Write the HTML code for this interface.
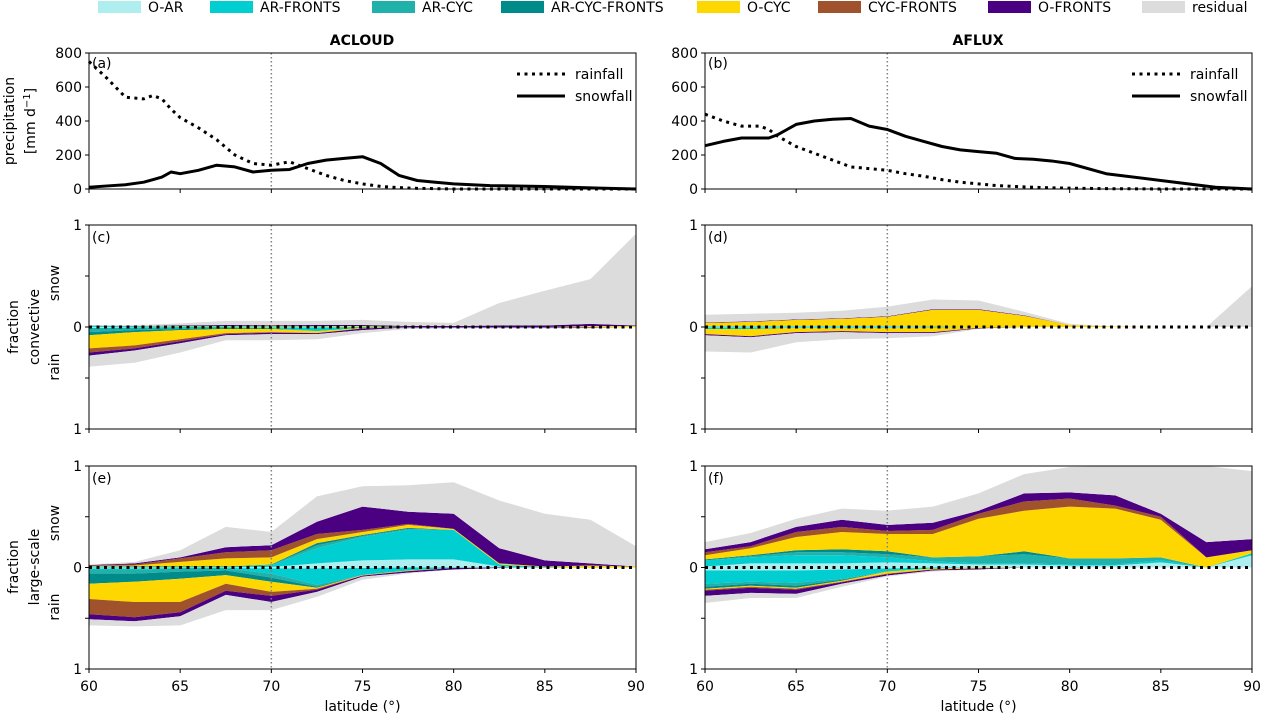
<!DOCTYPE html>
<html><head><meta charset="utf-8"><style>
body{margin:0;background:#fff}
svg{display:block;font-family:"DejaVu Sans","Liberation Sans",sans-serif}
</style></head><body>
<svg id="fig" width="1261" height="713" viewBox="0 0 1261 713"></svg>
<script>
// ---------- data ----------
const lats = [60,62.5,65,67.5,70,72.5,75,77.5,80,82.5,85,87.5,90];
const layerNames = ['O-AR','AR-FRONTS','AR-CYC','AR-CYC-FRONTS','O-CYC','CYC-FRONTS','O-FRONTS','residual'];
const layerColors = ['#afeeee','#00ced1','#20b2aa','#008b8b','#ffd700','#a0522d','#4b0082','#dcdcdc'];
const xTicks = [60,65,70,75,80,85,90];
const precipTicks = [0,200,400,600,800];

const latPrecip = [60,61,62,63,63.5,64,64.5,65,66,67,68,69,70,71,72,73,74,75,76,77,78,79,80,82,85,88,90];
const aRain = [750,650,540,530,550,530,470,420,360,290,200,150,140,160,120,80,50,30,15,8,4,2,0,0,0,0,0];
const aSnow = [10,18,25,40,55,70,100,90,110,140,130,100,110,115,150,170,180,190,150,80,50,40,30,20,15,5,0];
const bRain = [440,400,370,370,350,310,280,250,210,170,130,120,110,90,75,55,40,30,20,15,10,7,5,2,0,0,0];
const bSnow = [255,280,300,300,300,320,350,380,400,410,415,370,350,310,280,250,230,220,210,180,175,165,150,90,50,10,0];

// panel (c) convective, ACLOUD
const cSnowOAR =[0,0,0,0,0,0,0,0,0,0,0,0,0];
const cSnowARF =[0.01,0.005,0.005,0.005,0.005,0.005,0,0,0,0,0,0,0];
const cSnowARC =[0.005,0.005,0,0,0,0,0,0,0,0,0,0,0];
const cSnowACF =[0,0,0,0,0,0,0,0,0,0,0,0,0];
const cSnowOCYC=[0,0,0.005,0.005,0.01,0.005,0.01,0,0,0,0,0.01,0.01];
const cSnowCF  =[0,0,0,0,0,0,0,0,0,0,0,0,0];
const cSnowOF  =[0,0,0.005,0.01,0.005,0.01,0.01,0.01,0.01,0.015,0.015,0.02,0.005];
const cSnowRES =[0,0.01,0.02,0.04,0.04,0.04,0.05,0.04,0.03,0.22,0.34,0.44,0.9];
const cRainOAR =[0.01,0.005,0,0,0.005,0.005,0,0,0,0,0,0,0];
const cRainARF =[0,0,0.005,0.005,0.005,0.035,0.01,0,0,0,0,0,0];
const cRainARC =[0.04,0.025,0.015,0.005,0.005,0,0,0,0,0,0,0,0];
const cRainACF =[0.03,0.02,0.01,0.01,0.005,0,0,0,0,0,0,0,0];
const cRainOCYC=[0.13,0.13,0.09,0.04,0.03,0.02,0.005,0,0,0,0,0,0];
const cRainCF  =[0.04,0.03,0.02,0.01,0.005,0,0,0,0,0,0,0,0];
const cRainOF  =[0.03,0.02,0.02,0.01,0.015,0.01,0.015,0.005,0.005,0.005,0.005,0.005,0];
const cRainRES =[0.11,0.12,0.09,0.05,0.06,0.05,0.03,0.015,0.01,0.01,0.01,0.01,0];

// panel (d) convective, AFLUX
const dSnowOAR =[0.005,0.005,0.005,0.005,0.005,0,0,0,0,0,0,0,0];
const dSnowARF =[0.005,0.005,0.005,0.005,0.005,0.005,0,0,0,0,0,0,0];
const dSnowARC =[0,0,0,0,0,0,0,0,0,0,0,0,0];
const dSnowACF =[0,0,0,0,0,0,0,0,0,0,0,0,0];
const dSnowOCYC=[0.03,0.04,0.06,0.07,0.09,0.165,0.17,0.11,0.02,0.005,0,0,0];
const dSnowCF  =[0,0,0,0,0,0,0,0,0,0,0,0,0];
const dSnowOF  =[0.005,0.005,0.005,0.005,0.005,0.005,0.005,0.005,0,0,0,0,0];
const dSnowRES =[0.075,0.075,0.065,0.075,0.095,0.095,0.085,0.035,0.01,0,0,0,0.4];
const dRainOAR =[0.005,0.005,0.005,0.005,0.005,0,0,0,0,0,0,0,0];
const dRainARF =[0.015,0.015,0.005,0.005,0.005,0.005,0,0,0,0,0,0,0];
const dRainARC =[0,0,0,0,0,0,0,0,0,0,0,0,0];
const dRainACF =[0,0,0,0,0,0,0,0,0,0,0,0,0];
const dRainOCYC=[0.05,0.07,0.04,0.03,0.04,0.045,0.01,0,0,0,0,0,0];
const dRainCF  =[0,0,0,0,0,0,0,0,0,0,0,0,0];
const dRainOF  =[0.01,0.01,0.01,0.01,0.01,0.01,0.005,0,0,0,0,0,0];
const dRainRES =[0.16,0.15,0.09,0.07,0.05,0.03,0.005,0,0,0,0,0,0];

// panel (e) large-scale, ACLOUD
const eSnowOAR =[0,0,0,0,0.005,0.04,0.07,0.08,0.08,0.01,0,0,0];
const eSnowARF =[0.01,0.005,0.005,0.005,0.015,0.15,0.23,0.29,0.29,0.02,0.005,0,0];
const eSnowARC =[0,0,0,0,0.005,0.03,0.01,0.01,0,0,0,0,0];
const eSnowACF =[0,0.005,0.005,0.005,0.005,0.02,0.01,0.01,0,0,0,0,0];
const eSnowOCYC=[0.005,0.01,0.045,0.08,0.07,0.04,0.03,0.03,0.01,0.01,0.005,0.02,0.01];
const eSnowCF  =[0.005,0.01,0.035,0.06,0.07,0.05,0.02,0.01,0,0,0,0,0];
const eSnowOF  =[0.005,0.01,0.01,0.05,0.05,0.12,0.23,0.12,0.15,0.15,0.06,0.02,0];
const eSnowRES =[0.005,0.015,0.07,0.2,0.13,0.25,0.2,0.26,0.31,0.47,0.46,0.43,0.2];
const eRainOAR =[0.01,0.01,0.005,0.005,0.01,0.01,0.005,0,0,0,0,0,0];
const eRainARF =[0.01,0.01,0.005,0.005,0.05,0.16,0.07,0.03,0.005,0,0,0,0];
const eRainARC =[0.04,0.04,0.03,0.02,0.04,0.02,0,0,0,0,0,0,0];
const eRainACF =[0.1,0.08,0.07,0.045,0.04,0.01,0,0,0,0,0,0,0];
const eRainOCYC=[0.15,0.2,0.23,0.085,0.1,0.01,0.005,0.005,0,0,0,0,0];
const eRainCF  =[0.15,0.15,0.1,0.07,0.04,0.01,0,0,0,0,0,0,0];
const eRainOF  =[0.05,0.04,0.04,0.04,0.06,0.02,0.01,0.015,0.015,0.005,0,0,0];
const eRainRES =[0.06,0.05,0.09,0.15,0.08,0.05,0.03,0.01,0,0.005,0.005,0.005,0];

// panel (f) large-scale, AFLUX
const fSnowOAR =[0.01,0.04,0.04,0.04,0.05,0.04,0.03,0.03,0.02,0.02,0.05,0,0.12];
const fSnowARF =[0.06,0.06,0.08,0.08,0.05,0.02,0.01,0.01,0.01,0.01,0.02,0,0.02];
const fSnowARC =[0,0.01,0.03,0.03,0.03,0.04,0.07,0.09,0.06,0.06,0.03,0,0];
const fSnowACF =[0.01,0.01,0.02,0.03,0.03,0,0,0.03,0,0,0,0,0];
const fSnowOCYC=[0.04,0.07,0.13,0.17,0.17,0.23,0.37,0.4,0.51,0.49,0.37,0.1,0.03];
const fSnowCF  =[0.03,0.02,0.05,0.05,0.03,0.04,0.05,0.09,0.08,0.03,0.03,0,0];
const fSnowOF  =[0.03,0.04,0.05,0.07,0.06,0.07,0.03,0.08,0.06,0.1,0.03,0.15,0.11];
const fSnowRES =[0.07,0.09,0.08,0.11,0.14,0.16,0.17,0.19,0.25,0.29,0.47,0.75,0.67];
const fRainOAR =[0.03,0.03,0.03,0.02,0.01,0,0,0,0,0,0,0,0];
const fRainARF =[0.13,0.11,0.12,0.09,0.03,0.01,0,0,0,0,0,0,0];
const fRainARC =[0.03,0.02,0.03,0.01,0,0,0,0,0,0,0,0,0];
const fRainACF =[0.02,0.02,0.02,0.01,0,0,0,0,0,0,0,0,0];
const fRainOCYC=[0.01,0.01,0.01,0.01,0.02,0.01,0.01,0,0,0,0,0,0];
const fRainCF  =[0.01,0.01,0.01,0.005,0.005,0,0,0,0,0,0,0,0];
const fRainOF  =[0.05,0.05,0.04,0.015,0.015,0.01,0.01,0,0,0,0,0,0];
const fRainRES =[0.07,0.05,0.04,0.03,0.01,0.01,0,0,0,0,0,0,0];

// ---------- drawing ----------
const NS='http://www.w3.org/2000/svg';
const svg=document.getElementById('fig');
function mk(tag,attrs,parent){const e=document.createElementNS(NS,tag);for(const k in attrs)e.setAttribute(k,attrs[k]);(parent||svg).appendChild(e);return e;}
function txt(s,attrs,parent){const e=mk('text',attrs,parent);e.textContent=s;return e;}

const cols=[{x0:89,x1:636},{x0:705,x1:1252}];
const rows={top:{y0:53,y1:189},mid:{y0:225,y1:429},bot:{y0:466,y1:669}};
function xScale(col,lat){return col.x0+(lat-60)/30*(col.x1-col.x0);}

// legend
const legX=[98,210,372,501,697,818,988,1142];
layerNames.forEach((n,i)=>{
  const g=mk('g',{});
  
  
  mk('rect',{x:legX[i],y:1,width:43,height:12,fill:layerColors[i]},g);
  txt(n,{x:legX[i]+50,y:12,'font-size':14,fill:'#000'},g);
});

function frame(col,row,name){
  const r=mk('rect',{x:col.x0,y:row.y0,width:col.x1-col.x0,height:row.y1-row.y0,fill:'none',stroke:'#000','stroke-width':1});
  
  
  xTicks.forEach(t=>{const x=xScale(col,t);mk('line',{x1:x,x2:x,y1:row.y1,y2:row.y1+4,stroke:'#000'});});
}
function vline70(col,row){const x=xScale(col,70);const l=mk('line',{x1:x,x2:x,y1:row.y0,y2:row.y1,stroke:'#808080','stroke-width':1.5,'stroke-dasharray':'1.5,2.5'});
  }

// top panels
function precipPanel(col,rain,snow,label,legX0){
  const row=rows.top;
  const ys=v=>row.y1-v/800*(row.y1-row.y0);
  vline70(col,row);
  const pts=a=>latPrecip.map((l,i)=>xScale(col,l)+','+ys(a[i])).join(' ');
  const pr=mk('polyline',{points:pts(rain),fill:'none',stroke:'#000','stroke-width':3,'stroke-dasharray':'3,4.5'});
  
  const ps=mk('polyline',{points:pts(snow),fill:'none',stroke:'#000','stroke-width':3,'stroke-linejoin':'round'});
  
  frame(col,row,'precip-'+label);
  precipTicks.forEach(t=>{const y=ys(t);mk('line',{x1:col.x0-4,x2:col.x0,y1:y,y2:y,stroke:'#000'});
    txt(String(t),{x:col.x0-7,y:y+5,'font-size':14,'text-anchor':'end'});});
  txt('('+label+')',{x:col.x0+3,y:row.y0+15,'font-size':14});
  const lg=mk('g',{});
  mk('line',{x1:legX0,x2:legX0+48,y1:74,y2:74,stroke:'#000','stroke-width':3,'stroke-dasharray':'3,4.5'},lg);
  txt('rainfall',{x:legX0+58,y:79,'font-size':14},lg);
  mk('line',{x1:legX0,x2:legX0+48,y1:96,y2:96,stroke:'#000','stroke-width':3},lg);
  txt('snowfall',{x:legX0+58,y:101,'font-size':14},lg);
}

function fracPanel(col,row,snowLayers,rainLayers,label){
  const y0=(row.y0+row.y1)/2, h=(row.y1-row.y0)/2;
  const g=mk('g',{});
  [[snowLayers,-1,'snow'],[rainLayers,1,'rain']].forEach(([layers,sgn,kind])=>{
    let base=lats.map(()=>0);
    layers.forEach((arr,li)=>{
      const top=base.map((b,i)=>b+arr[i]);
      let d='M';
      lats.forEach((l,i)=>{d+=(i?' L':'')+xScale(col,l).toFixed(1)+','+(y0+sgn*top[i]*h).toFixed(1);});
      for(let i=lats.length-1;i>=0;i--){d+=' L'+xScale(col,lats[i]).toFixed(1)+','+(y0+sgn*base[i]*h).toFixed(1);}
      d+=' Z';
      const p=mk('path',{d:d,fill:layerColors[li],stroke:'none'},g);
      
      
      base=top;
    });
  });
  const z=mk('line',{x1:col.x0,x2:col.x1,y1:y0,y2:y0,stroke:'#000','stroke-width':3,'stroke-dasharray':'3,4.5'});
  
  vline70(col,row);
  frame(col,row,'fraction-'+label);
  [[row.y0,'1'],[y0-h/2,''],[y0,'0'],[y0+h/2,''],[row.y1,'1']].forEach(([y,s])=>{
    mk('line',{x1:col.x0-4,x2:col.x0,y1:y,y2:y,stroke:'#000'});
    if(s)txt(s,{x:col.x0-7,y:y+5,'font-size':14,'text-anchor':'end'});
  });
  txt('('+label+')',{x:col.x0+3,y:row.y0+17,'font-size':14});
}

precipPanel(cols[0],aRain,aSnow,'a',517);
precipPanel(cols[1],bRain,bSnow,'b',1132);
fracPanel(cols[0],rows.mid,[cSnowOAR,cSnowARF,cSnowARC,cSnowACF,cSnowOCYC,cSnowCF,cSnowOF,cSnowRES],[cRainOAR,cRainARF,cRainARC,cRainACF,cRainOCYC,cRainCF,cRainOF,cRainRES],'c');
fracPanel(cols[1],rows.mid,[dSnowOAR,dSnowARF,dSnowARC,dSnowACF,dSnowOCYC,dSnowCF,dSnowOF,dSnowRES],[dRainOAR,dRainARF,dRainARC,dRainACF,dRainOCYC,dRainCF,dRainOF,dRainRES],'d');
fracPanel(cols[0],rows.bot,[eSnowOAR,eSnowARF,eSnowARC,eSnowACF,eSnowOCYC,eSnowCF,eSnowOF,eSnowRES],[eRainOAR,eRainARF,eRainARC,eRainACF,eRainOCYC,eRainCF,eRainOF,eRainRES],'e');
fracPanel(cols[1],rows.bot,[fSnowOAR,fSnowARF,fSnowARC,fSnowACF,fSnowOCYC,fSnowCF,fSnowOF,fSnowRES],[fRainOAR,fRainARF,fRainARC,fRainACF,fRainOCYC,fRainCF,fRainOF,fRainRES],'f');

// x tick labels, axis titles
cols.forEach((col,ci)=>{
  xTicks.forEach(t=>txt(String(t),{x:xScale(col,t),y:691,'font-size':14,'text-anchor':'middle'}));
  const xl=txt('latitude (°)',{x:(col.x0+col.x1)/2,y:711,'font-size':14,'text-anchor':'middle'});
  
});
txt('ACLOUD',{x:362,y:45,'font-size':14,'font-weight':'bold','text-anchor':'middle'});
txt('AFLUX',{x:978,y:45,'font-size':14,'font-weight':'bold','text-anchor':'middle'});
function vtxt(s,x,y){const t=txt(s,{x:x,y:y,'font-size':14,'text-anchor':'middle',transform:'rotate(-90 '+x+' '+y+')'});
  return t;}
vtxt('precipitation',14,121);
const u=vtxt('',35,121);u.innerHTML='[mm d<tspan dy="-5" font-size="10">−1</tspan><tspan dy="5">]</tspan>';
vtxt('fraction',18,327);vtxt('convective',39,327);vtxt('snow',59,283);vtxt('rain',59,367);
vtxt('fraction',18,567);vtxt('large-scale',39,567);vtxt('snow',59,523);vtxt('rain',59,607);
</script>
</body></html>
